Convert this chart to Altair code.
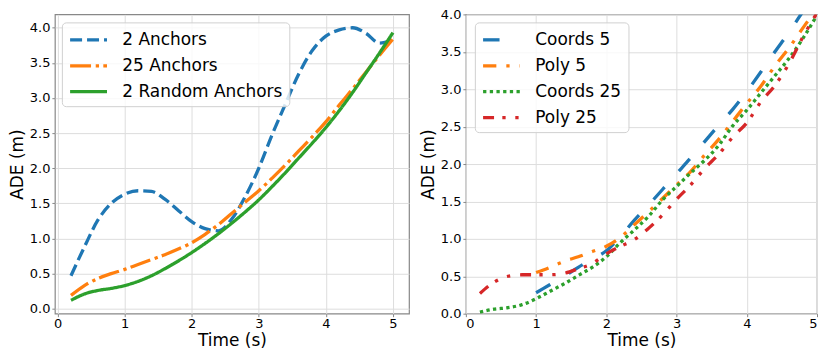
import altair as alt
import pandas as pd

# ---------------- data ----------------
time_s = [0.2, 0.4, 0.6, 0.8, 1.0, 1.2, 1.4, 1.6, 1.8, 2.0, 2.2, 2.4, 2.6,
          2.8, 3.0, 3.2, 3.4, 3.6, 3.8, 4.0, 4.2, 4.4, 4.6, 4.8, 5.0]

# left panel
anchors_2 = [0.47, 0.88, 1.26, 1.50, 1.63, 1.68, 1.67, 1.56, 1.40, 1.24, 1.14, 1.11, 1.28,
             1.60, 2.00, 2.48, 2.92, 3.35, 3.68, 3.88, 3.97, 4.00, 3.92, 3.78, 3.83]
anchors_25 = [0.19, 0.33, 0.43, 0.50, 0.56, 0.63, 0.70, 0.77, 0.85, 0.94, 1.06, 1.20, 1.36,
              1.52, 1.68, 1.86, 2.05, 2.25, 2.45, 2.66, 2.90, 3.13, 3.37, 3.61, 3.84]
random_2 = [0.12, 0.21, 0.26, 0.29, 0.33, 0.39, 0.47, 0.57, 0.68, 0.80, 0.93, 1.07, 1.22,
            1.38, 1.55, 1.74, 1.94, 2.15, 2.36, 2.58, 2.82, 3.08, 3.36, 3.64, 3.93]

# right panel (Coords 5 / Poly 5 start at 1 s)
coords_5 = [None, None, None, None, 0.28, 0.39, 0.50, 0.62, 0.73, 0.84, 1.03, 1.25, 1.45,
            1.66, 1.87, 2.08, 2.30, 2.52, 2.73, 2.97, 3.23, 3.50, 3.76, 4.04, 4.32]
poly_5 = [None, None, None, None, 0.55, 0.62, 0.70, 0.76, 0.83, 0.90, 1.02, 1.19, 1.36,
          1.54, 1.72, 1.90, 2.12, 2.33, 2.57, 2.81, 3.04, 3.31, 3.55, 3.82, 4.08]
coords_25 = [0.02, 0.06, 0.08, 0.12, 0.20, 0.30, 0.40, 0.51, 0.62, 0.76, 0.95, 1.12, 1.30,
             1.52, 1.70, 1.88, 2.05, 2.25, 2.51, 2.72, 2.95, 3.18, 3.41, 3.68, 3.99]
poly_25 = [0.27, 0.42, 0.50, 0.52, 0.52, 0.52, 0.54, 0.60, 0.67, 0.80, 0.90, 0.99, 1.14,
           1.32, 1.53, 1.72, 1.94, 2.13, 2.36, 2.55, 2.83, 3.05, 3.34, 3.70, 4.02]

left_names = ["2 Anchors", "25 Anchors", "2 Random Anchors"]
right_names = ["Coords 5", "Poly 5", "Coords 25", "Poly 25"]
x_ticks = [0, 1, 2, 3, 4, 5]
y_ticks = [0.0, 0.5, 1.0, 1.5, 2.0, 2.5, 3.0, 3.5, 4.0]


def long_table(names, series):
    rows = []
    for name, vals in zip(names, series):
        for t, v in zip(time_s, vals):
            if v is not None:
                rows.append({"series": name, "t": t, "ade": v})
    return pd.DataFrame(rows)


left_df = long_table(left_names, [anchors_2, anchors_25, random_2])
right_df = long_table(right_names, [coords_5, poly_5, coords_25, poly_25])

FONT = "DejaVu Sans"
COLORS = ["#1f77b4", "#ff7f0e", "#2ca02c", "#d62728"]


def make_legend(lx, ly, row_pad):
    return alt.Legend(
        title=None, orient="none", legendX=lx, legendY=ly,
        symbolType="M-1,0H3", symbolSize=342, symbolStrokeWidth=3.3,
        symbolFillColor="transparent",
        labelFont=FONT, labelFontSize=17, labelColor="black", labelLimit=400,
        labelOffset=32, padding=6.5, rowPadding=row_pad,
        fillColor="rgba(255,255,255,0.8)", strokeColor="#d0d0d0",
        cornerRadius=4,
    )


def panel(df, names, colors, dashes, xdom, ydom, legend, width, height):
    x = alt.X("t:Q", title="Time (s)",
              scale=alt.Scale(domain=xdom, nice=False, zero=False),
              axis=alt.Axis(values=x_ticks, format="d", labelPadding=1, titlePadding=2))
    y = alt.Y("ade:Q", title="ADE (m)",
              scale=alt.Scale(domain=ydom, nice=False, zero=False),
              axis=alt.Axis(values=y_ticks, format=".1f", labelPadding=2, titlePadding=3))
    return alt.Chart(df).mark_line(
        strokeWidth=3.3, interpolate="monotone", clip=True
    ).encode(
        x=x, y=y,
        color=alt.Color("series:N", scale=alt.Scale(domain=names, range=colors),
                        legend=legend),
        strokeDash=alt.StrokeDash("series:N", scale=alt.Scale(domain=names, range=dashes),
                                  legend=legend),
        order=alt.Order("t:Q"),
    ).properties(width=width, height=height)


left = panel(left_df, left_names, COLORS[:3],
             [[12, 5], [21, 4.7, 3.3, 4.3], [1, 0]],
             [-0.04, 5.24], [-0.07, 4.19], make_legend(7, 8, 7), 355, 300)
right = panel(right_df, right_names, COLORS,
              [[16.5, 21.5], [13.3, 10, 3.3, 10], [3.3, 3.4],
               [11, 8.3, 3.3, 9.7, 3.3, 10]],
              [0, 5], [0, 4], make_legend(9, 8, 7), 352, 300)

chart = alt.hconcat(left, right, spacing=57, bounds="flush").resolve_scale(
    color="independent", strokeDash="independent"
).resolve_legend(
    color="independent", strokeDash="independent"
).properties(
    padding={"left": -1, "top": -1, "right": 0, "bottom": 0}
).configure_view(
    stroke="#888888", strokeWidth=1.2
).configure_axis(
    labelFont=FONT, labelFontSize=13, labelColor="black",
    titleFont=FONT, titleFontSize=17, titleFontWeight="normal", titleColor="black",
    gridColor="#dddddd", gridWidth=1, domain=False,
    tickColor="#888888", tickSize=3,
)

chart.save("out.html", embed_options={"renderer": "svg", "actions": False})
